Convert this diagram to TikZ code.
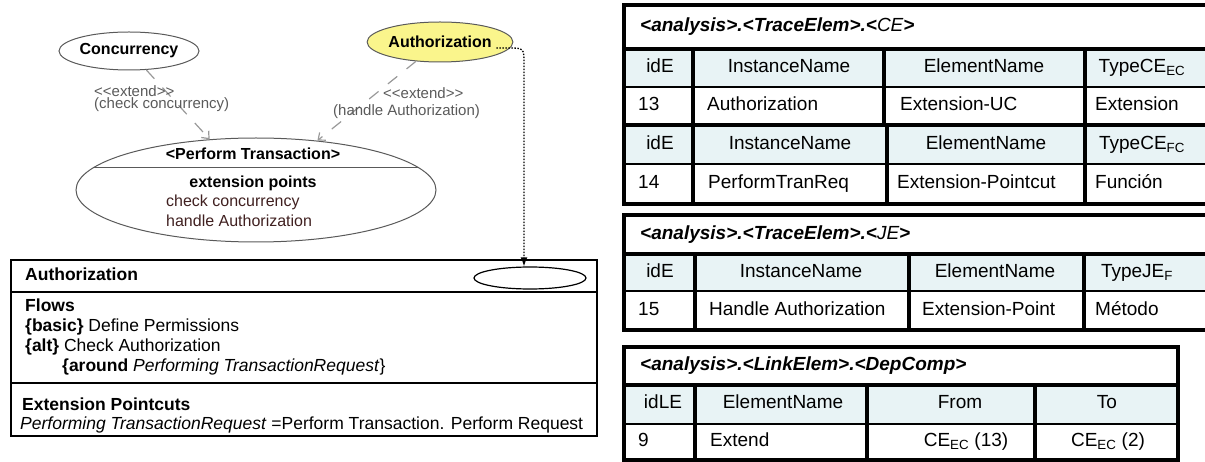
\documentclass[tikz,border=0pt]{standalone}
\usepackage{fontspec}
\setmainfont{Liberation Sans}
\usetikzlibrary{shapes.geometric,arrows.meta}

\definecolor{ucyellow}{RGB}{250,245,140}
\definecolor{hdrbg}{RGB}{232,243,245}
\definecolor{extgray}{RGB}{90,90,90}
\definecolor{eptext}{RGB}{64,32,32}

\newcommand{\fsz}[1]{\fontsize{#1}{#1}\selectfont}

\tikzset{
  usecase/.style={draw=black!65,ellipse,inner sep=0pt,line width=1pt},
  extarrow/.style={draw=black!40,line width=1.2pt,dash pattern=on 12pt off 12pt,-{Straight Barb[length=6pt,width=10pt]}},
  extlabel/.style={text=extgray,font=\fsz{15},inner sep=0pt,anchor=west},
  boxtext/.style={font=\fsz{17.5},inner sep=0pt,anchor=west,text height=12pt,text depth=4pt},
  cell/.style={font=\fsz{19},inner sep=0pt,text height=13pt,text depth=4pt},
  lcell/.style={cell,anchor=west},
  tbltitle/.style={font=\fsz{19}\bfseries\itshape,inner sep=0pt,anchor=west},
  frame/.style={line width=3.5pt},
  rowsep/.style={line width=2pt}
}

\begin{document}
\begin{tikzpicture}[x=1pt,y=-1pt]
  \useasboundingbox (0,0) rectangle (1205,462);

  % use cases
  \node[usecase,minimum width=140pt,minimum height=38pt,font=\fsz{16}\bfseries] (conc) at (129,51) {Concurrency};
  \node[usecase,fill=ucyellow,minimum width=142pt,minimum height=40pt,font=\fsz{16}\bfseries] (auth) at (440,42) {Authorization};
  \node[usecase,minimum width=360pt,minimum height=104pt] (perf) at (256,190) {};
  \draw[black!65,line width=1pt] ([shift={(-163,-22)}]perf.center) -- ([shift={(163,-22)}]perf.center);
  \node[font=\fsz{16}\bfseries,inner sep=0pt] (perfname) at (253,154) {<Perform Transaction>};
  \node[font=\fsz{16}\bfseries,inner sep=0pt] (extpts) at (253,183) {extension points};
  \node[font=\fsz{16},text=eptext,inner sep=0pt,anchor=west] (eponea) at (166,202) {check concurrency};
  \node[font=\fsz{16},text=eptext,inner sep=0pt,anchor=west] (eptwo) at (166,221) {handle Authorization};

  \draw[extarrow] (conc) -- (perf);
  \draw[extarrow] (auth) -- (perf);
  \node[extlabel] (stcona) at (94,91) {<{}<extend>{}>};
  \node[extlabel] (stconb) at (94,105) {(check concurrency)};
  \node[extlabel] (stautha) at (383,93) {<{}<extend>{}>};
  \node[extlabel] (stauthb) at (333,112) {(handle Authorization)};

  % aspect box
  \draw[line width=1.5pt] (11,260) rectangle (597,436);
  \draw[line width=1.5pt] (11,292) -- (597,292) (11,383) -- (597,383);
  \node[draw,ellipse,line width=1.2pt,minimum width=112pt,minimum height=22pt,inner sep=0pt] (ptc) at (530,278) {};
  \draw[line width=1.3pt,dash pattern=on 1.5pt off 1.5pt,-{Latex[length=9pt,width=7pt]}] ([shift={(-17,6)}]auth.east) -- (508,48) .. controls (524,48) .. (524,64) -- ([xshift=-6pt]ptc.north);

  \node[boxtext,font=\fsz{17.5}\bfseries] (aspname) at (25,277) {Authorization};
  \node[boxtext,font=\fsz{17.5}\bfseries] (flows) at (25,308) {Flows};
  \node[boxtext] (fbasic) at (25,328) {\textbf{\{basic\}} Define Permissions};
  \node[boxtext] (falt) at (25,348) {\textbf{\{alt\}} Check Authorization};
  \node[boxtext] (faround) at (62,367) {\textbf{\{around} \textit{Performing TransactionRequest}\}};
  \node[boxtext,font=\fsz{17.5}\bfseries] (pcuts) at (22,406) {Extension Pointcuts};
  \node[boxtext] (pcdef) at (20,425) {\textit{Performing TransactionRequest} =Perform Transaction. Perform Request};

  % CE table
  \fill[hdrbg] (624,49) rectangle (1205,87);
  \fill[hdrbg] (624,125) rectangle (1205,164);
  \draw[rowsep] (624,87) -- (1205,87) (624,164) -- (1205,164);
  \draw[frame] (1205,5) -- (624,5) -- (624,204) -- (1205,204);
  \draw[frame] (624,49) -- (1205,49) (624,125) -- (1205,125);
  \draw[frame] (693,49) -- (693,204) (884,49) -- (884,125) (887,125) -- (887,204) (1085,49) -- (1085,204);
  \node[tbltitle] (cetitle) at (640,27) {<analysis>.<TraceElem>.<{\mdseries CE}>};
  \node[cell] (ceid) at (660,68) {idE};
  \node[cell] (ceinst) at (789,68) {InstanceName};
  \node[cell] (ceelem) at (984,68) {ElementName};
  \node[cell] (cetype) at (1142,68) {TypeCE\textsubscript{EC}};
  \node[lcell] (ceida) at (638,106) {13};
  \node[lcell] (ceinsta) at (707,106) {Authorization};
  \node[lcell] (ceelema) at (900,106) {Extension-UC};
  \node[lcell] (cetypea) at (1095,106) {Extension};
  \node[cell] (ceidb) at (660,145) {idE};
  \node[cell] (ceinstb) at (790,145) {InstanceName};
  \node[cell] (ceelemb) at (986,145) {ElementName};
  \node[cell] (cetypeb) at (1142,145) {TypeCE\textsubscript{FC}};
  \node[lcell] (ceidc) at (638,184) {14};
  \node[lcell] (ceinstc) at (708,184) {PerformTranReq};
  \node[lcell] (ceelemc) at (897,184) {Extension-Pointcut};
  \node[lcell] (cetypec) at (1095,184) {Función};

  % JE table
  \fill[hdrbg] (624,254) rectangle (1205,291);
  \draw[rowsep] (624,291) -- (1205,291);
  \draw[frame] (1205,215) -- (624,215) -- (624,330) -- (1205,330);
  \draw[frame] (624,254) -- (1205,254);
  \draw[frame] (695,254) -- (695,330) (909,254) -- (909,330) (1084,254) -- (1084,330);
  \node[tbltitle] (jetitle) at (640,235) {<analysis>.<TraceElem>.<{\mdseries JE}>};
  \node[cell] (jeid) at (660,273) {idE};
  \node[cell] (jeinst) at (801,273) {InstanceName};
  \node[cell] (jeelem) at (995,273) {ElementName};
  \node[cell] (jetype) at (1137,273) {TypeJE\textsubscript{F}};
  \node[lcell] (jeida) at (638,311) {15};
  \node[lcell] (jeinsta) at (709,311) {Handle Authorization};
  \node[lcell] (jeelema) at (922,311) {Extension-Point};
  \node[lcell] (jetypea) at (1095,311) {Método};

  % DepComp table
  \fill[hdrbg] (624,385) rectangle (1178,424);
  \draw[rowsep] (624,424) -- (1178,424);
  \draw[frame] (624,347) rectangle (1178,460);
  \draw[frame] (624,385) -- (1178,385);
  \draw[frame] (695,385) -- (695,460) (867,385) -- (867,460) (1035,385) -- (1035,460);
  \node[tbltitle] (letitle) at (640,366) {<analysis>.<LinkElem>.<DepComp>};
  \node[cell] (leid) at (663,404) {idLE};
  \node[cell] (leelem) at (783,404) {ElementName};
  \node[cell] (lefrom) at (960,404) {From};
  \node[cell] (leto) at (1107,404) {To};
  \node[lcell] (leida) at (638,442) {9};
  \node[lcell] (leelema) at (710,442) {Extend};
  \node[cell] (lefroma) at (966,442) {CE\textsubscript{EC} (13)};
  \node[cell] (letoa) at (1108,442) {CE\textsubscript{EC} (2)};
\end{tikzpicture}
\end{document}
